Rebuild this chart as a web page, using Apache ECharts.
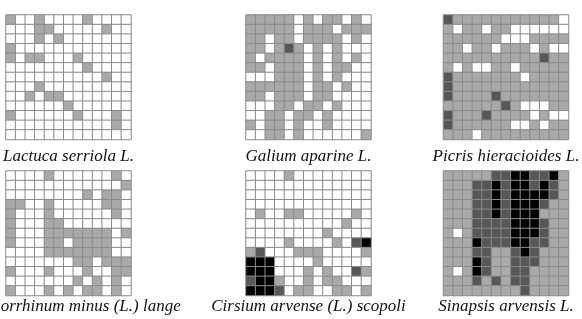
<!DOCTYPE html>
<html><head><meta charset="utf-8">
<script src="https://cdn.jsdelivr.net/npm/echarts@6/dist/echarts.min.js"></script>
<style>html,body{margin:0;padding:0;background:#fff}#c{width:582px;height:319px}</style>
</head><body><div id="c"></div>
<script>
// levels: 0 = white, 1 = light grey, 2 = dark grey, 3 = black ; row 0 = top row
const lactuca = [
 [1,0,0,1,0,0,0,0,1,0,0,0,0],
 [0,0,0,1,1,0,0,0,0,0,1,0,0],
 [0,0,0,1,0,1,0,0,0,0,0,0,0],
 [1,0,0,0,0,0,0,0,0,0,0,0,0],
 [1,0,1,1,0,0,0,1,0,0,0,0,0],
 [0,0,0,0,0,0,0,0,1,0,0,0,0],
 [0,0,0,0,0,0,0,0,0,0,1,0,0],
 [0,0,0,1,0,0,0,0,0,0,0,0,0],
 [0,0,1,0,1,1,0,0,0,0,0,0,0],
 [0,0,0,0,0,0,1,0,0,0,0,0,0],
 [1,0,0,0,0,0,0,1,0,0,0,1,0],
 [0,0,0,0,0,0,0,0,0,0,0,1,0],
 [0,0,0,0,0,0,0,0,0,0,0,0,0]
];
const galium = [
 [1,1,1,1,1,0,1,0,1,1,0,1,0],
 [1,1,1,1,1,0,1,1,1,0,1,1,1],
 [1,1,0,1,1,0,1,1,1,1,0,1,0],
 [1,1,0,1,2,1,0,1,0,1,0,0,0],
 [1,0,1,1,1,1,0,1,0,1,0,1,0],
 [1,1,0,1,1,1,0,1,0,1,1,0,0],
 [0,0,0,1,1,1,0,1,0,1,0,0,0],
 [1,1,1,1,1,1,0,1,1,0,1,0,0],
 [1,1,0,1,1,1,0,1,1,0,0,0,0],
 [0,0,0,1,1,0,1,1,0,1,0,0,0],
 [0,0,1,1,0,1,1,0,1,0,0,0,0],
 [1,0,1,1,0,1,0,0,1,0,0,0,0],
 [0,0,1,1,0,1,0,0,0,0,0,0,1]
];
const picris = [
 [2,1,1,1,1,1,1,1,1,1,1,1,0],
 [1,0,1,1,0,1,1,0,0,0,0,0,0],
 [1,1,1,1,1,1,0,0,0,1,1,1,1],
 [1,1,0,1,1,0,1,1,1,0,1,0,0],
 [1,1,1,1,1,1,1,1,1,1,2,1,1],
 [1,0,1,0,0,1,1,0,1,1,1,1,1],
 [2,1,1,1,1,1,1,1,0,1,1,1,1],
 [2,1,1,1,1,1,1,1,1,1,1,1,1],
 [2,1,1,1,1,2,1,1,1,1,1,1,1],
 [1,1,1,1,1,1,2,1,0,0,0,1,1],
 [2,1,1,1,2,1,1,1,1,0,1,0,0],
 [2,1,1,1,1,1,1,0,0,1,0,1,1],
 [1,1,1,0,1,1,1,1,1,1,1,1,1]
];
const chaenorrhinum = [
 [0,0,0,0,1,0,0,0,0,0,0,1,0],
 [0,0,0,0,0,0,0,0,0,0,0,0,1],
 [0,0,0,0,0,0,0,0,1,0,1,1,0],
 [1,1,0,0,1,0,0,0,0,0,1,1,0],
 [1,0,0,0,1,0,0,0,0,0,0,1,0],
 [1,0,0,0,1,1,0,0,0,0,0,0,0],
 [1,0,0,0,1,1,1,1,1,1,1,0,1],
 [1,0,0,0,1,1,0,1,1,1,1,0,0],
 [0,0,0,0,1,1,1,1,1,1,1,0,0],
 [0,0,0,0,0,0,0,1,1,0,1,1,1],
 [1,0,0,0,1,0,0,0,1,0,0,1,1],
 [0,0,0,0,0,0,0,1,0,1,0,1,0],
 [1,0,0,0,1,0,1,0,1,1,0,1,0]
];
const cirsium = [
 [0,0,0,0,1,0,0,0,0,0,0,0,0],
 [0,0,0,0,0,0,0,0,0,0,0,0,0],
 [0,0,0,0,0,0,0,0,0,0,0,0,0],
 [0,0,0,0,0,0,0,0,0,0,0,0,0],
 [0,1,0,0,1,1,0,0,0,0,0,1,0],
 [0,0,0,0,0,0,0,0,0,0,1,0,0],
 [0,0,0,0,0,0,0,0,1,0,0,0,0],
 [0,0,0,0,1,0,0,0,0,1,0,2,3],
 [1,2,0,0,0,1,1,1,0,0,0,0,1],
 [3,3,3,0,0,0,0,1,0,0,0,0,0],
 [3,3,3,0,0,0,1,0,1,0,0,2,1],
 [2,3,3,1,0,0,1,0,1,1,0,0,0],
 [3,3,3,2,0,1,1,0,0,1,1,0,1]
];
const sinapsis = [
 [1,1,1,1,1,2,2,3,3,2,2,3,1],
 [1,1,1,2,2,3,2,3,3,2,3,2,1],
 [1,1,1,2,2,3,2,3,3,3,3,2,1],
 [1,1,1,2,2,3,2,3,3,3,2,1,1],
 [1,1,1,2,2,3,2,3,3,3,1,1,1],
 [1,1,1,2,2,2,2,3,3,3,2,1,1],
 [1,0,1,2,2,2,2,3,3,3,2,1,1],
 [1,1,1,3,2,2,2,3,3,2,2,1,1],
 [1,1,1,2,2,1,1,2,3,2,1,1,1],
 [1,1,1,3,2,1,1,2,2,2,1,1,1],
 [1,0,1,3,2,1,1,2,2,1,1,1,1],
 [1,1,1,2,1,2,1,2,2,1,1,1,1],
 [1,1,1,1,1,1,1,1,2,1,1,1,1]
];
const labels = [
 'Lactuca serriola L.', 'Galium aparine L.', 'Picris hieracioides L.',
 'Chaenorrhinum minus (L.) lange', 'Cirsium arvense (L.) scopoli', 'Sinapsis arvensis L.'
];
const panels = [lactuca, galium, picris, chaenorrhinum, cirsium, sinapsis];
const cats = Array.from({length: 13}, (_, i) => String(i));

const lefts = [6, 246, 443.5];
const tops = [15, 171];
const W = 125, H = 124.5;
const labelY = [156.5, 307];

const grid = [], xAxis = [], yAxis = [], series = [], graphic = [];
panels.forEach((m, k) => {
  const col = k % 3, row = Math.floor(k / 3);
  grid.push({left: lefts[col], top: tops[row], width: W, height: H});
  xAxis.push({type: 'category', data: cats, gridIndex: k, show: false});
  yAxis.push({type: 'category', data: cats, gridIndex: k, show: false, inverse: true});
  const data = [];
  m.forEach((r, y) => r.forEach((v, x) => data.push([x, y, v])));
  series.push({
    type: 'heatmap', xAxisIndex: k, yAxisIndex: k, data: data,
    itemStyle: {borderColor: '#8a8a8a', borderWidth: 1},
    emphasis: {disabled: true}, animation: false
  });
  graphic.push({
    type: 'text', x: lefts[col] + W / 2, y: labelY[row],
    style: {text: labels[k], font: 'italic 17px "Liberation Serif"', fill: '#111',
            textAlign: 'center', textVerticalAlign: 'middle'}
  });
});

const chart = echarts.init(document.getElementById('c'), null, {renderer: 'canvas'});
chart.setOption({
  animation: false,
  grid, xAxis, yAxis, series, graphic,
  visualMap: {
    type: 'piecewise', show: false, seriesIndex: [0,1,2,3,4,5], dimension: 2,
    pieces: [
      {value: 0, color: '#ffffff'}, {value: 1, color: '#a9a9a9'},
      {value: 2, color: '#575757'}, {value: 3, color: '#000000'}
    ]
  }
});
</script></body></html>
